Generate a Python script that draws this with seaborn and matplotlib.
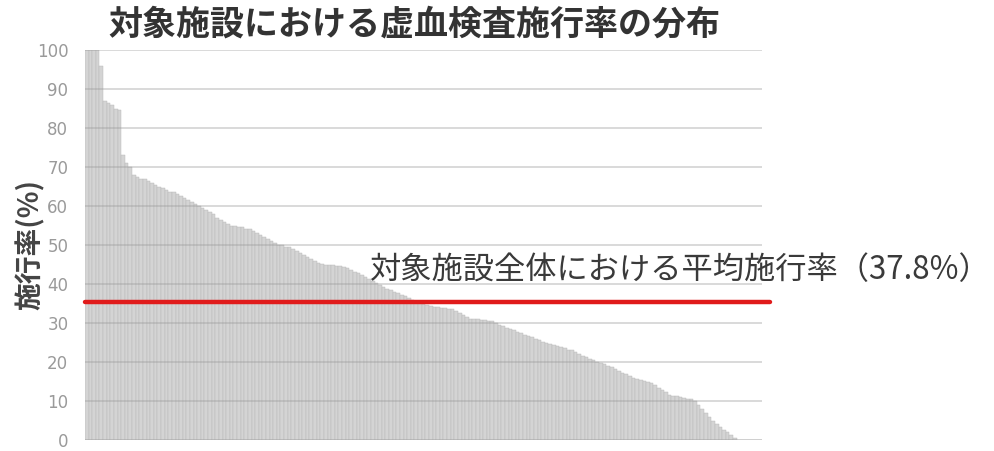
import pandas as pd
import seaborn as sns
import matplotlib.pyplot as plt

# 施設ごとの虚血検査施行率（%）、降順
rates = [
    100, 100, 100, 100, 96, 87, 86.5, 86, 85, 84.5,
    73, 71, 70, 68, 67.5, 67, 67, 66.5, 66, 65.5,
    65, 64.5, 64, 63.5, 63.5, 63, 62.5, 62, 61.5, 61,
    60.5, 60, 59.5, 59, 58.5, 58, 57, 56.5, 56, 55.5,
    55, 55, 54.5, 54.5, 54, 54, 53.5, 53, 52.5, 52,
    51.5, 51, 50.5, 50, 50, 49.5, 49.5, 49, 48.5, 48,
    47.5, 47, 46.5, 46, 45.5, 45.2, 45, 45, 44.8, 44.6,
    44.5, 44.4, 44, 43.6, 43.2, 42.8, 42.4, 41.8, 41.3, 40.8,
    40.3, 39.8, 39.3, 38.8, 38.4, 38, 37.6, 37.2, 36.8, 36.4,
    36, 35.6, 35.3, 35, 34.7, 34.3, 34.2, 34, 33.9, 33.8,
    33.6, 33.5, 33, 32.5, 32, 31.5, 31, 31, 30.9, 30.8,
    30.7, 30.6, 30.5, 30, 29.6, 29.2, 28.8, 28.5, 28.1, 27.8,
    27.4, 27, 26.7, 26.3, 26, 25.6, 25.2, 24.9, 24.5, 24.3,
    24, 23.8, 23.5, 23.2, 23, 22.5, 22, 21.6, 21.2, 20.8,
    20.4, 20, 19.7, 19.4, 19.1, 18.7, 18.2, 17.8, 17.3, 16.9,
    16.4, 16, 15.7, 15.4, 15.1, 14.8, 14.6, 14, 13.4, 12.8,
    12.2, 11.6, 11.4, 11.2, 11, 10.8, 10.6, 10.4, 10, 9,
    8, 7, 6, 5, 4.2, 3.4, 2.6, 2, 1.2, 0.5,
    0, 0, 0, 0, 0, 0, 0,
]
facilities = list(range(len(rates)))
line_value = 35.5          # 赤線の位置
line_label = '対象施設全体における平均施行率（37.8%）'
title = '対象施設における虚血検査施行率の分布'
y_ticks = list(range(0, 101, 10))

df = pd.DataFrame({'facility': facilities, 'rate': rates})

sns.set_theme(style='white')
plt.rcParams['font.family'] = ['Noto Sans CJK JP', 'DejaVu Sans']

fig = plt.figure(figsize=(9.94, 4.51), dpi=100)
ax = fig.add_axes([85 / 994, 11 / 451, (762 - 85) / 994, (440 - 50) / 451])

sns.barplot(data=df, x='facility', y='rate', color='#d4d4d4', width=1.0,
            edgecolor='#b5b5b5', linewidth=0.3, saturation=1, ax=ax, zorder=2)

# 目盛り線（棒の上に薄く）
for t in y_ticks:
    ax.axhline(t, color='#9a9a9a', alpha=0.4, lw=1.3, zorder=3)

# 平均施行率の赤線
ax.axhline(line_value, xmin=0, xmax=(770 - 85) / (762 - 85), color='#e01b1b',
           lw=3.2, zorder=4, clip_on=False)

ax.set_xlim(-0.5, len(rates) - 0.5)
ax.set_ylim(0, 100)
ax.set_yticks(y_ticks)
ax.set_xticks([])
ax.set_xlabel('')
ax.set_ylabel('')
ax.tick_params(axis='y', labelsize=12, labelcolor='#9a9a9a', length=0, pad=12)
for lbl in ax.get_yticklabels():
    lbl.set_family(['DejaVu Sans'])
sns.despine(ax=ax, left=True, bottom=True)

fig.text(414 / 994, 1 - 24 / 451, title, ha='center', va='center',
         fontsize=24.5, fontweight='bold', color='#333333')
fig.text(370 / 994, 1 - 270 / 451, line_label, ha='left', va='center',
         fontsize=22.5, color='#3a3a3a')
fig.text(30 / 994, 1 - 245 / 451, '施行率(%)', ha='center', va='center',
         rotation=90, fontsize=20, fontweight='bold', color='#444444')

fig.savefig('out.png', dpi=100)
